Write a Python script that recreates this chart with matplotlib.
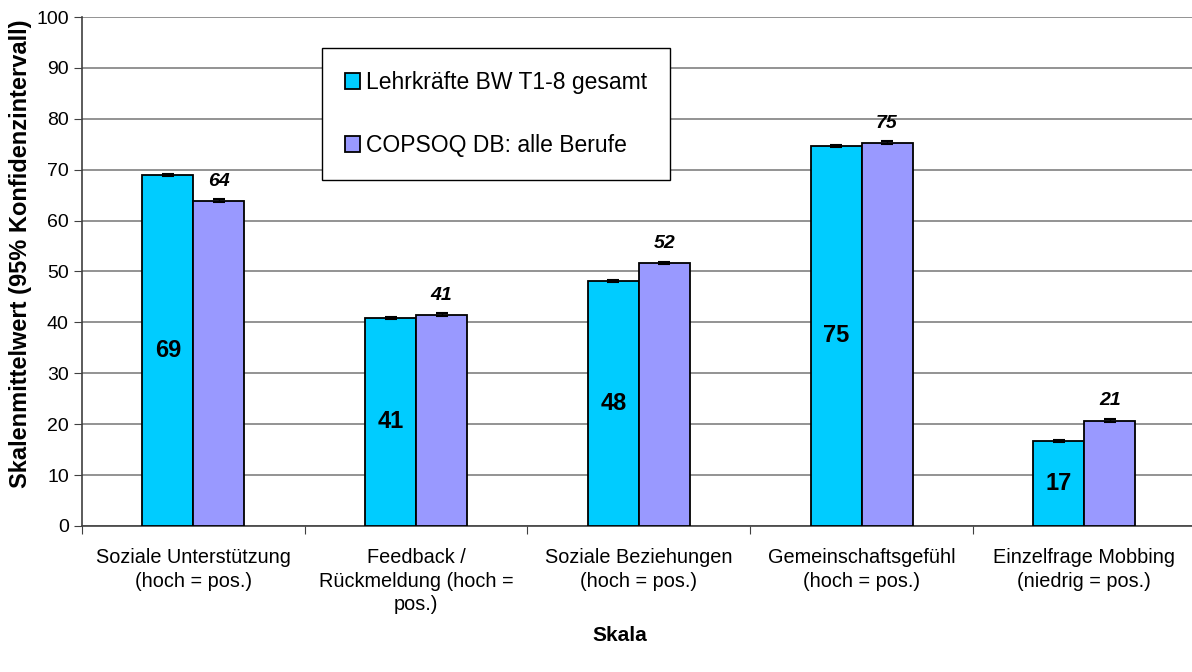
import matplotlib.pyplot as plt
import numpy as np

plt.rcParams['font.family'] = ['Liberation Sans', 'DejaVu Sans']

categories = ['Soziale Unterstützung\n(hoch = pos.)',
              'Feedback /\nRückmeldung (hoch =\npos.)',
              'Soziale Beziehungen\n(hoch = pos.)',
              'Gemeinschaftsgefühl\n(hoch = pos.)',
              'Einzelfrage Mobbing\n(niedrig = pos.)']
lehrer = [69.0, 40.9, 48.2, 74.7, 16.7]
copsoq = [63.9, 41.5, 51.7, 75.3, 20.7]
lehrer_err = [0.25, 0.2, 0.2, 0.2, 0.25]
copsoq_err = [0.25, 0.25, 0.25, 0.25, 0.25]
lehrer_labels = ['69', '41', '48', '75', '17']
copsoq_labels = ['64', '41', '52', '75', '21']

fig = plt.figure(figsize=(11.92, 6.72), dpi=100)
# axes runs a bit past the right edge, as in the original
ax = fig.add_axes([0.0688, 0.2173, 1110 / 1192, 0.7574])

x = np.arange(len(categories))
w = 0.229
err_kw = dict(ecolor='black', capsize=4, elinewidth=1, capthick=1.5)
ax.bar(x - w / 2, lehrer, w, color='#00CCFF', edgecolor='black', linewidth=1.3,
       yerr=lehrer_err, error_kw=err_kw, label='Lehrkräfte BW T1-8 gesamt', zorder=3)
ax.bar(x + w / 2, copsoq, w, color='#9999FF', edgecolor='black', linewidth=1.3,
       yerr=copsoq_err, error_kw=err_kw, label='COPSOQ DB: alle Berufe', zorder=3)

for xi, v, t in zip(x, lehrer, lehrer_labels):
    ax.text(xi - w / 2, v / 2, t, ha='center', va='center', fontsize=17, fontweight='bold', zorder=4)
for xi, v, t in zip(x, copsoq, copsoq_labels):
    ax.text(xi + w / 2, v + 2.2, t, ha='center', va='bottom', fontsize=14, fontweight='bold',
            style='italic', zorder=4)

ax.set_xlim(-0.5, 4.484)
ax.set_ylim(0, 100)
ax.set_yticks(range(0, 101, 10))
ax.yaxis.grid(True, color='#808080', linewidth=1.2)
ax.set_axisbelow(True)
for s in ['top', 'right']:
    ax.spines[s].set_visible(False)
ax.spines['left'].set_color('#404040')
ax.spines['bottom'].set_color('#404040')
ax.spines['left'].set_linewidth(1.2)
ax.spines['bottom'].set_linewidth(1.2)

ax.set_xticks(np.arange(-0.5, 4.4, 1.0))
ax.set_xticklabels([])
ax.set_xticks(x, minor=True)
ax.set_xticklabels(categories, minor=True, fontsize=14.3, linespacing=1.3, va='top')
ax.tick_params(axis='x', which='minor', length=0, pad=16)
ax.tick_params(axis='x', which='major', length=6, direction='out', color='#404040')
ax.tick_params(axis='y', labelsize=14, length=6, color='#404040')

ax.set_ylabel('Skalenmittelwert (95% Konfidenzintervall)', fontsize=17, fontweight='bold')
ax.yaxis.set_label_coords(-0.045, 0.534)
fig.text(0.52, 0.055, 'Skala', ha='center', va='center', fontsize=15, fontweight='bold')

leg = ax.legend(loc='upper left', bbox_to_anchor=(0.2162, 0.939), fontsize=16.5,
                fancybox=False, frameon=True, edgecolor='black', framealpha=1,
                handlelength=0.65, handleheight=0.65, handletextpad=0.25,
                labelspacing=1.75, borderpad=1.0, borderaxespad=0)
leg.get_frame().set_linewidth(1.0)
leg.set_zorder(5)

fig.savefig('out.png', dpi=100)
